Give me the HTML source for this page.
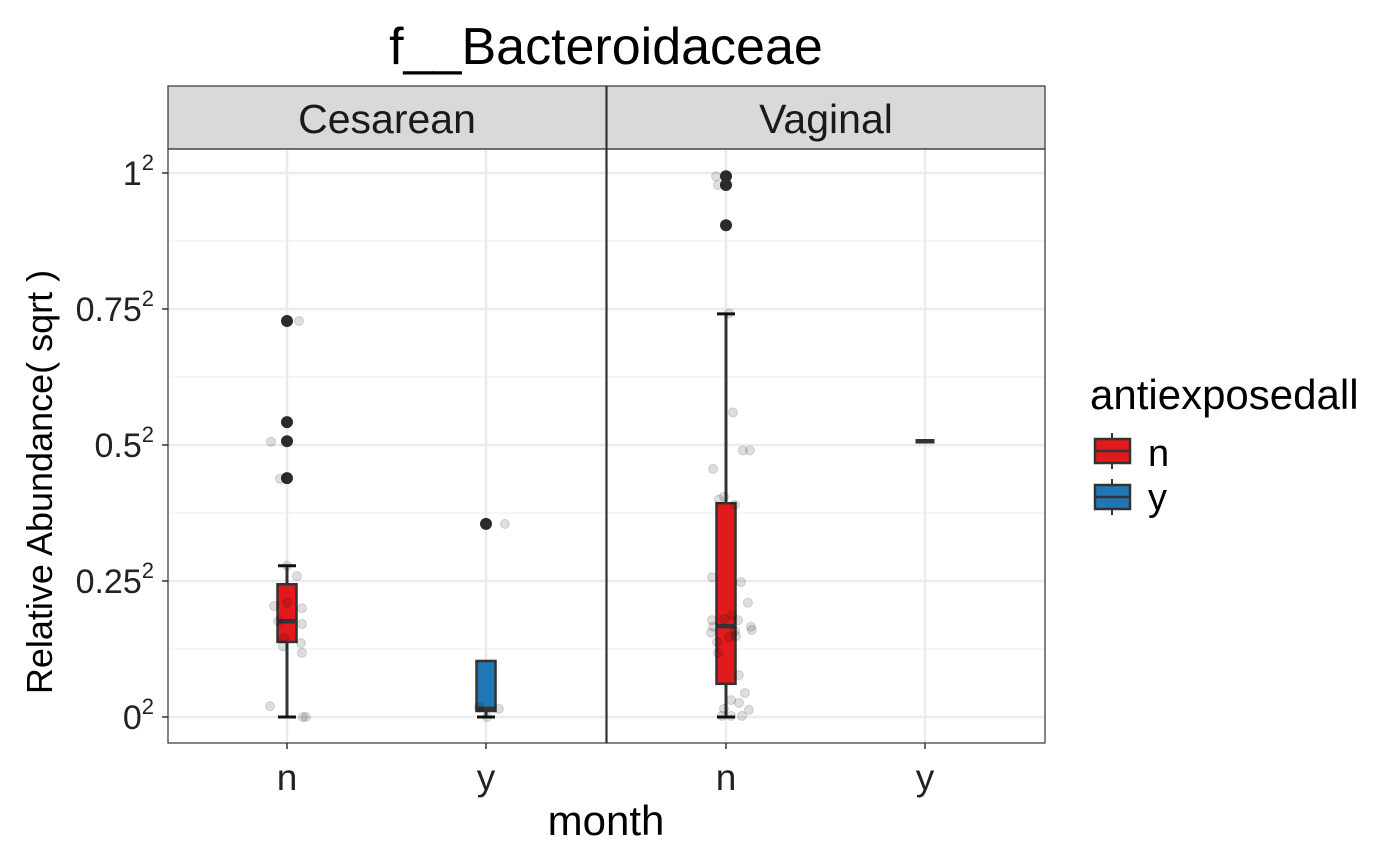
<!DOCTYPE html>
<html><head><meta charset="utf-8"><style>
html,body{margin:0;padding:0;background:#fff;}
svg{display:block;font-family:"Liberation Sans",Arial,sans-serif;}
</style></head><body>
<svg id="chart" width="1400" height="866" viewBox="0 0 1400 866" xmlns="http://www.w3.org/2000/svg">
<text x="606" y="64" font-size="52" text-anchor="middle" fill="#000">f__Bacteroidaceae</text>
<g id="panels"></g>
<text x="606" y="835" font-size="42" text-anchor="middle">month</text>
<text transform="translate(52,482) rotate(-90)" font-size="36" text-anchor="middle">Relative Abundance( sqrt )</text>
<g>
<text x="1090" y="409" font-size="42">antiexposedall</text>
<g>
<line x1="1112" y1="433" x2="1112" y2="469" stroke="#333" stroke-width="2"/>
<rect x="1095" y="439" width="35" height="24" fill="#E31A1C" stroke="#333" stroke-width="2.5"/>
<line x1="1095" y1="451" x2="1130" y2="451" stroke="#333" stroke-width="2.5"/>
<text x="1148" y="466" font-size="38">n</text></g>
<g>
<line x1="1112" y1="479" x2="1112" y2="515" stroke="#333" stroke-width="2"/>
<rect x="1095" y="485" width="35" height="24" fill="#1F78B4" stroke="#333" stroke-width="2.5"/>
<line x1="1095" y1="497" x2="1130" y2="497" stroke="#333" stroke-width="2.5"/>
<text x="1148" y="510" font-size="38">y</text></g>
</g>
</svg>
<script>
const facets = ["Cesarean", "Vaginal"];
const categories = ["n", "y"];
const yTicks = [0, 0.25, 0.5, 0.75, 1];
const yTickLabels = ["0", "0.25", "0.5", "0.75", "1"];
// box stats: [lower whisker, q1, median, q3, upper whisker]
const boxCesN = [0, 0.138, 0.176, 0.244, 0.278];
const boxCesY = [0, 0.011, 0.015, 0.103, 0.015];
const boxVagN = [0, 0.061, 0.167, 0.393, 0.741];
const boxVagY = [0.507, 0.507, 0.507, 0.507, 0.507];
const outCesN = [0.728, 0.542, 0.507, 0.439];
const outCesY = [0.355];
const outVagN = [0.994, 0.978, 0.904];
const outVagY = [];
const ptsCesNVal = [0.728,0.506,0.438,0.278,0.259,0.204,0.21,0.2,0.176,0.171,0.145,0.136,0.13,0.118,0.02,0,0];
const ptsCesNJit = [0.06,-0.08,-0.035,0,0.05,-0.065,0,0.075,-0.045,0.075,-0.015,0.07,-0.02,0.075,-0.085,0.08,0.095];
const ptsCesYVal = [0.355,0.018,0.015,0];
const ptsCesYJit = [0.095,-0.035,0.065,0.005];
const ptsVagNVal = [0.994,0.978,0.742,0.56,0.49,0.49,0.456,0.4,0.405,0.39,0.257,0.248,0.21,0.178,0.18,0.187,0.178,0.166,0.155,0.166,0.16,0.158,0.147,0.149,0.138,0.118,0.077,0.044,0.031,0.026,0.015,0.013,0.002,0.002,0.002];
const ptsVagNJit = [-0.05,-0.04,0.015,0.035,0.085,0.12,-0.065,-0.035,-0.01,0.045,-0.07,0.075,0.11,-0.07,-0.01,0.03,0.06,-0.065,-0.075,0.125,0.13,0.045,0.015,0.05,-0.045,-0.04,0.065,0.095,0.025,0.065,-0.01,0.115,-0.02,0.08,0.025];
const ptsVagYVal = [];
const ptsVagYJit = [];

const boxes = [[boxCesN, boxCesY],[boxVagN, boxVagY]];
const outs = [[outCesN, outCesY],[outVagN, outVagY]];
const pv = [[ptsCesNVal, ptsCesYVal],[ptsVagNVal, ptsVagYVal]];
const pj = [[ptsCesNJit, ptsCesYJit],[ptsVagNJit, ptsVagYJit]];
const fills = ["#E31A1C", "#1F78B4"];

const NS = "http://www.w3.org/2000/svg";
const g = document.getElementById("panels");
const panelX0 = [168, 607], panelW = 438, plotTop = 149, plotBottom = 743;
const yScale = v => 717 - v * 544;
const xScale = (p, i) => panelX0[p] + 119 + i * 199;
function mk(tag, attrs, parent) {
  const e = document.createElementNS(NS, tag);
  for (const k in attrs) e.setAttribute(k, attrs[k]);
  (parent || g).appendChild(e);
  return e;
}
yTicks.forEach((t, i) => {
  const tx = mk("text", {x: 154, y: yScale(t) + 12, "font-size": 34, "text-anchor": "end", fill: "#222"});
  
  
  tx.textContent = yTickLabels[i];
  const sup = document.createElementNS(NS, "tspan");
  sup.setAttribute("dy", -15); sup.setAttribute("font-size", 22); sup.textContent = "2";
  tx.appendChild(sup);
  mk("line", {x1: 162, x2: 168, y1: yScale(t), y2: yScale(t), stroke: "#333", "stroke-width": 1.5});
});
facets.forEach((f, p) => {
  const x0 = panelX0[p];
  const pg = mk("g", {});
  
  
  mk("rect", {x: x0, y: plotTop, width: panelW, height: plotBottom - plotTop, fill: "#fff"}, pg);
  for (let i = 0; i < yTicks.length - 1; i++) {
    const m = (yTicks[i] + yTicks[i + 1]) / 2;
    mk("line", {x1: x0, x2: x0 + panelW, y1: yScale(m), y2: yScale(m), stroke: "#f0f0f0", "stroke-width": 1.2}, pg);
  }
  yTicks.forEach(t => mk("line", {x1: x0, x2: x0 + panelW, y1: yScale(t), y2: yScale(t), stroke: "#ebebeb", "stroke-width": 2.5}, pg));
  categories.forEach((c, i) => mk("line", {x1: xScale(p, i), x2: xScale(p, i), y1: plotTop, y2: plotBottom, stroke: "#ebebeb", "stroke-width": 2.5}, pg));
  mk("rect", {x: x0, y: 86, width: panelW, height: 63, fill: "#d9d9d9", stroke: "#333", "stroke-width": 1.2}, pg);
  const st = mk("text", {x: x0 + panelW / 2, y: 133, "font-size": 41, "text-anchor": "middle", fill: "#1a1a1a"}, pg);
  
  
  st.textContent = f;
  categories.forEach((c, i) => {
    const cx = xScale(p, i);
    const b = boxes[p][i];
    const bw = 17;
    const bg = mk("g", {}, pg);
    
    
    if (b[4] > b[3]) {
      mk("line", {x1: cx, x2: cx, y1: yScale(b[3]), y2: yScale(b[4]), stroke: "#333", "stroke-width": 3}, bg);
      mk("line", {x1: cx - 9, x2: cx + 9, y1: yScale(b[4]), y2: yScale(b[4]), stroke: "#111", "stroke-width": 3}, bg);
    }
    if (b[0] < b[1]) {
      mk("line", {x1: cx, x2: cx, y1: yScale(b[0]), y2: yScale(b[1]), stroke: "#333", "stroke-width": 3}, bg);
      mk("line", {x1: cx - 9, x2: cx + 9, y1: yScale(b[0]), y2: yScale(b[0]), stroke: "#111", "stroke-width": 3}, bg);
    }
    if (b[3] > b[1]) {
      mk("rect", {x: cx - bw / 2 - 1, y: yScale(b[3]), width: bw + 2, height: yScale(b[1]) - yScale(b[3]), fill: fills[i], stroke: "#333", "stroke-width": 2.5}, bg);
    }
    mk("line", {x1: cx - bw / 2 - 1, x2: cx + bw / 2 + 1, y1: yScale(b[2]), y2: yScale(b[2]), stroke: "#333", "stroke-width": 4.5}, bg);
    outs[p][i].forEach(v => {
      const o = mk("circle", {cx: cx, cy: yScale(v), r: 6, fill: "#2b2b2b"}, pg);
      
      
    });
    pv[p][i].forEach((v, k) => {
      const pt = mk("circle", {cx: cx + pj[p][i][k] * 199, cy: yScale(v), r: 4.5, fill: "rgba(0,0,0,0.13)", stroke: "rgba(0,0,0,0.15)", "stroke-width": 1}, pg);
      
      
    });
    mk("line", {x1: cx, x2: cx, y1: plotBottom, y2: plotBottom + 6, stroke: "#333", "stroke-width": 1.5}, pg);
    const xl = mk("text", {x: cx, y: 790, "font-size": 37, "text-anchor": "middle", fill: "#222"}, pg);
    
    
    xl.textContent = c;
  });
  mk("rect", {x: x0, y: plotTop, width: panelW, height: plotBottom - plotTop, fill: "none", stroke: "#333", "stroke-width": 1.2}, pg);
});
</script>
</body></html>
